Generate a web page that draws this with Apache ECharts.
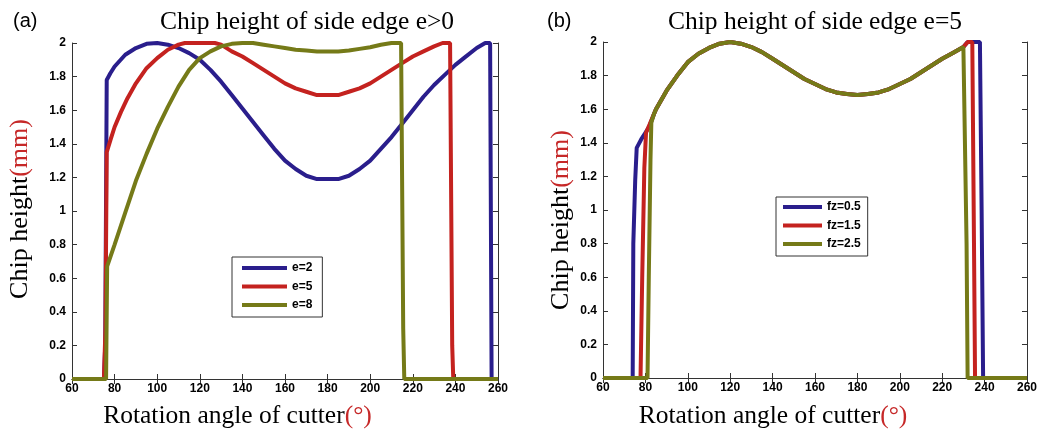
<!DOCTYPE html>
<html>
<head>
<meta charset="utf-8">
<script src="https://cdn.jsdelivr.net/npm/echarts@6/dist/echarts.min.js"></script>
<style>html,body{margin:0;padding:0;background:#fff}#c{width:1040px;height:435px}</style>
</head>
<body>
<div id="c"></div>
<script>
// ---- tick values ----
const xTicks = [60, 80, 100, 120, 140, 160, 180, 200, 220, 240, 260];
const yTicks = [0, 0.2, 0.4, 0.6, 0.8, 1, 1.2, 1.4, 1.6, 1.8, 2];

// ---- panel (a): chip height vs rotation angle, e = 2, 5, 8 ----
const namesA = ['e=2', 'e=5', 'e=8'];
const e2 = [[60,0],[75,0],[75.6,0.2],[76.3,1.78],[78,1.82],[80,1.86],[85,1.93],[90,1.97],[95,1.995],[100,2.0],[105,1.99],[110,1.97],[115,1.94],[120,1.9],[125,1.84],[130,1.77],[135,1.69],[140,1.61],[145,1.53],[150,1.45],[155,1.37],[160,1.30],[165,1.25],[170,1.21],[175,1.19],[180,1.19],[185,1.19],[190,1.21],[195,1.25],[200,1.30],[205,1.37],[210,1.44],[215,1.52],[220,1.60],[225,1.68],[230,1.75],[235,1.81],[240,1.87],[245,1.92],[250,1.97],[254,2.0],[256.3,2.0],[257,0],[260,0]];
const e5 = [[60,0],[75,0],[75.7,0.3],[76.3,1.35],[78,1.42],[80,1.5],[83,1.59],[86,1.67],[90,1.76],[95,1.85],[100,1.91],[105,1.96],[110,1.99],[113,2.0],[120,2.0],[127,2.0],[130,1.99],[135,1.95],[140,1.92],[145,1.88],[150,1.84],[155,1.80],[160,1.76],[165,1.73],[170,1.71],[175,1.69],[180,1.69],[185,1.69],[190,1.71],[195,1.73],[200,1.76],[205,1.80],[210,1.84],[215,1.88],[220,1.92],[225,1.95],[230,1.98],[234,2.0],[237.5,2.0],[238.5,0.2],[239,0],[260,0]];
const e8 = [[60,0],[76,0],[76.5,0.67],[80,0.8],[85,0.99],[90,1.18],[95,1.34],[100,1.49],[105,1.62],[110,1.74],[115,1.84],[120,1.91],[125,1.95],[130,1.98],[135,1.995],[140,2.0],[145,2.0],[150,1.99],[155,1.98],[160,1.97],[165,1.96],[170,1.955],[175,1.95],[180,1.95],[185,1.95],[190,1.955],[195,1.965],[200,1.975],[205,1.99],[210,2.0],[214.5,2.0],[215.5,0.3],[216,0],[260,0]];

// ---- panel (b): e = 5, fz = 0.5, 1.5, 2.5 ----
const namesB = ['fz=0.5', 'fz=1.5', 'fz=2.5'];
const curveB = [[84,1.57],[85,1.6],[90,1.71],[95,1.8],[100,1.88],[105,1.93],[110,1.965],[115,1.99],[120,2.0],[125,1.99],[130,1.97],[135,1.94],[140,1.90],[145,1.86],[150,1.82],[155,1.78],[160,1.75],[165,1.72],[170,1.70],[175,1.69],[180,1.685],[185,1.69],[190,1.70],[195,1.72],[200,1.75],[205,1.78],[210,1.82],[215,1.86],[220,1.90],[225,1.935],[230,1.97]];
const fz05Head = [[60,0],[74,0],[74.3,0.8],[75.2,1.18],[75.9,1.37],[78,1.42],[80,1.46],[82,1.5]];
const fz15Head = [[60,0],[77.7,0],[78.5,0.6],[79.5,1.25],[80.3,1.46],[82,1.51]];
const fz25Head = [[60,0],[81,0],[81.6,0.6],[82.4,1.3],[82.8,1.52]];
const fz05Tail = [[232,2.0],[237.8,2.0],[238.6,1.0],[239.3,0],[260,0]];
const fz15Tail = [[232,2.0],[234.2,2.0],[235,0.8],[235.5,0],[260,0]];
const fz25Tail = [[230.8,1.97],[231.5,0.8],[232,0],[260,0]];

const colors = ['#2a1e8c', '#c4221f', '#757a18'];

const chart = echarts.init(document.getElementById('c'));
const tickFont = { fontFamily: 'Liberation Sans', fontWeight: 'bold', fontSize: 12, color: '#000' };
const frame = { show: true, lineStyle: { color: '#333', width: 1 } };

function xAx(grid, pos, labels) {
  return {
    type: 'value', gridIndex: grid, position: pos, min: xTicks[0], max: xTicks[xTicks.length - 1],
    interval: xTicks[1] - xTicks[0], axisLine: frame,
    axisTick: { show: true, inside: true, length: 5, lineStyle: { color: '#333' } },
    axisLabel: Object.assign({ show: labels, margin: 4 }, tickFont),
    splitLine: { show: false }
  };
}
function yAx(grid, pos, labels) {
  return {
    type: 'value', gridIndex: grid, position: pos, min: yTicks[0], max: yTicks[yTicks.length - 1],
    interval: 0.2, axisLine: frame,
    axisTick: { show: true, inside: true, length: 5, lineStyle: { color: '#333' } },
    axisLabel: Object.assign({ show: labels, margin: 6 }, tickFont),
    splitLine: { show: false }
  };
}
function ser(name, data, xi, yi, color) {
  return { name, type: 'line', data, xAxisIndex: xi, yAxisIndex: yi, showSymbol: false, symbol: 'none',
    lineStyle: { color, width: 4 }, itemStyle: { color }, animation: false, clip: true };
}
const legendBase = {
  orient: 'vertical', icon: 'rect', itemHeight: 4, itemGap: 4.5,
  borderColor: '#333', borderWidth: 1, backgroundColor: '#fff',
  textStyle: { fontFamily: 'Liberation Sans', fontWeight: 'bold', fontSize: 12, color: '#000', lineHeight: 14 },
  selectedMode: false
};
const serif = 'Liberation Serif';
function rich(main, red, size) {
  return {
    text: '{a|' + main + '}{b|' + red + '}',
    rich: { a: { fontFamily: serif, fontSize: size, fill: '#000' }, b: { fontFamily: serif, fontSize: size, fill: '#c62828' } },
    align: 'center', verticalAlign: 'middle'
  };
}

chart.setOption({
  animation: false,
  backgroundColor: '#fff',
  grid: [
    { left: 72, top: 43, width: 426, height: 336 },
    { left: 603, top: 42, width: 424, height: 336 }
  ],
  xAxis: [xAx(0, 'bottom', true), xAx(1, 'bottom', true), xAx(0, 'top', false), xAx(1, 'top', false)],
  yAxis: [yAx(0, 'left', true), yAx(1, 'left', true), yAx(0, 'right', false), yAx(1, 'right', false)],
  legend: [
    Object.assign({}, legendBase, { data: namesA, left: 232, top: 257, itemWidth: 45, padding: [4, 10, 5, 10] }),
    Object.assign({}, legendBase, { data: namesB, left: 776, top: 197, itemWidth: 39, padding: [3, 7, 5, 7] })
  ],
  series: [
    ser(namesA[0], e2, 0, 0, colors[0]),
    ser(namesA[1], e5, 0, 0, colors[1]),
    ser(namesA[2], e8, 0, 0, colors[2]),
    ser(namesB[0], fz05Head.concat(curveB, fz05Tail), 1, 1, colors[0]),
    ser(namesB[1], fz15Head.concat(curveB, fz15Tail), 1, 1, colors[1]),
    ser(namesB[2], fz25Head.concat(curveB, fz25Tail), 1, 1, colors[2])
  ],
  graphic: [
    { type: 'text', x: 13, y: 21, style: { text: '(a)', fontFamily: 'Liberation Sans', fontSize: 20, fill: '#000', align: 'left', verticalAlign: 'middle' } },
    { type: 'text', x: 160, y: 22, style: { text: 'Chip height of side edge e>0', fontFamily: serif, fontSize: 25.5, fill: '#000', align: 'left', verticalAlign: 'middle' } },
    { type: 'text', x: 547, y: 21, style: { text: '(b)', fontFamily: 'Liberation Sans', fontSize: 20, fill: '#000', align: 'left', verticalAlign: 'middle' } },
    { type: 'text', x: 815, y: 22, style: { text: 'Chip height of side edge e=5', fontFamily: serif, fontSize: 25.5, fill: '#000', align: 'center', verticalAlign: 'middle' } },
    { type: 'text', x: 237.5, y: 416, style: rich('Rotation angle of cutter', '(°)', 25.5) },
    { type: 'text', x: 773, y: 416, style: rich('Rotation angle of cutter', '(°)', 25.5) },
    { type: 'text', x: 20, y: 209, rotation: Math.PI / 2, style: rich('Chip height', '(mm)', 26) },
    { type: 'text', x: 561, y: 220, rotation: Math.PI / 2, style: rich('Chip height', '(mm)', 26) }
  ]
});
</script>
</body>
</html>
